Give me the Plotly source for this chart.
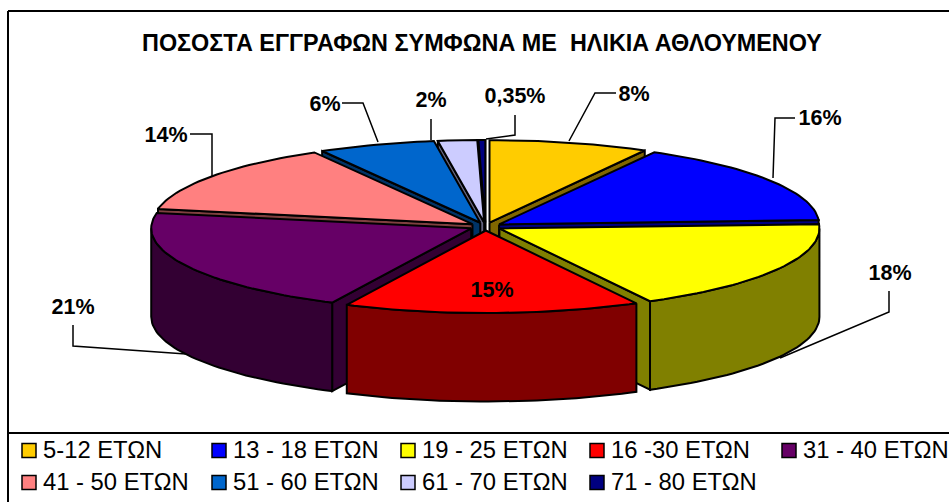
import math
import plotly.graph_objects as go

categories = ["5-12 ΕΤΩΝ", "13 - 18 ΕΤΩΝ", "19 - 25 ΕΤΩΝ", "16 -30 ΕΤΩΝ", "31 - 40 ΕΤΩΝ",
              "41 - 50 ΕΤΩΝ", "51 - 60 ΕΤΩΝ", "61 - 70 ΕΤΩΝ", "71 - 80 ΕΤΩΝ"]
values = [8, 16, 18, 15, 21, 14, 6, 2, 0.35]
value_labels = ["8%", "16%", "18%", "15%", "21%", "14%", "6%", "2%", "0,35%"]
title_text = "ΠΟΣΟΣΤΑ ΕΓΓΡΑΦΩΝ ΣΥΜΦΩΝΑ ΜΕ\u00a0\u00a0ΗΛΙΚΙΑ ΑΘΛΟΥΜΕΝΟΥ"

top_colors = ["#FFCC00", "#0000FF", "#FFFF00", "#FF0000", "#660066",
              "#FF8080", "#0066CC", "#CCCCFF", "#000080"]
side_colors = ["#806600", "#000080", "#808000", "#800000", "#330033",
               "#804040", "#003366", "#666680", "#000040"]

W, H = 949, 502
CX, CY, RX, RY, DEPTH, EXPLODE_X, EXPLODE_Y = 485.5, 226.5, 320, 82.5, 88.5, 16, 4
SKEW = math.radians(1.3)  # the 3-D projection pulls the front of the pie slightly to the left
FONT = "Liberation Sans, Arial, sans-serif"

label_xy = [(634, 96), (820, 120), (890, 275), (492, 292), (73, 309),
            (166, 137), (325, 106), (431, 102), (515, 98)]
leaders = [
    [(616, 93), (595, 93), (569, 141)],
    [(795, 118), (775, 118), (773, 178)],
    [(889, 291), (889, 312), (780, 358)],
    None,
    [(73, 325), (73, 346), (186, 354)],
    [(190, 134), (212, 134), (212, 176)],
    [(342, 103), (363, 103), (378, 142)],
    [(431, 119), (431, 140)],
    [(515, 115), (515, 135), (486, 139)],
]
LEGEND_X = [29, 219, 408, 597, 789]
LEGEND_Y = [450.5, 482.5]
LEGEND_TEXT_DX, LEGEND_TEXT_DY = 14, 1.5

fig = go.Figure()
line = dict(color="black", width=2)


def poly(pts, fill, name):
    fig.add_trace(go.Scatter(x=[p[0] for p in pts], y=[p[1] for p in pts], mode="lines",
                             fill="toself", fillcolor=fill, line=line, name=name,
                             showlegend=False, hoverinfo="name"))


total = sum(values)
bounds = [0]
for v in values:
    bounds.append(bounds[-1] + v / total * 2 * math.pi)
warp = lambda t: t + SKEW * math.sin(t / 2)

slices = []
for i in range(len(values)):
    a0, a1 = warp(bounds[i]), warp(bounds[i + 1])
    mid = (a0 + a1) / 2
    ax = CX + EXPLODE_X * math.sin(mid)
    ay = CY - EXPLODE_Y * math.cos(mid)
    slices.append((ay + RY * 0.6 * -math.cos(mid), i, a0, a1, ax, ay))

for _, i, a0, a1, ax, ay in sorted(slices):
    rim = lambda t: (ax + RX * math.sin(t), ay - RY * math.cos(t))
    down = lambda p: (p[0], p[1] + DEPTH)
    apex = (ax, ay)
    name = categories[i]
    # cut faces that turn towards the viewer
    if math.sin(a1) > 0:
        poly([apex, rim(a1), down(rim(a1)), down(apex), apex], side_colors[i], name)
    if math.sin(a0) < 0:
        poly([apex, rim(a0), down(rim(a0)), down(apex), apex], side_colors[i], name)
    # outer wall on the near half of the ellipse
    w0, w1 = max(a0, math.pi / 2), min(a1, 3 * math.pi / 2)
    if w1 > w0:
        n = max(2, int((w1 - w0) * 40))
        arc = [rim(w0 + (w1 - w0) * k / n) for k in range(n + 1)]
        poly(arc + [down(p) for p in reversed(arc)] + [arc[0]], side_colors[i], name)
    # top face
    n = max(2, int((a1 - a0) * 40))
    arc = [rim(a0 + (a1 - a0) * k / n) for k in range(n + 1)]
    poly([apex] + arc + [apex], top_colors[i], name)

for i, pts in enumerate(leaders):
    if pts:
        fig.add_trace(go.Scatter(x=[p[0] for p in pts], y=[p[1] for p in pts], mode="lines",
                                 line=dict(color="black", width=1.5), showlegend=False,
                                 hoverinfo="skip"))

fig.add_trace(go.Scatter(x=[p[0] for p in label_xy], y=[p[1] for p in label_xy], mode="text",
                         text=["<b>%s</b>" % t for t in value_labels], textposition="middle center",
                         textfont=dict(family=FONT, size=21.5, color="black"),
                         showlegend=False, hoverinfo="skip"))

for i, name in enumerate(categories):
    lx, ly = LEGEND_X[i % 5], LEGEND_Y[i // 5]
    fig.add_trace(go.Scatter(x=[lx], y=[ly], mode="markers",
                             marker=dict(symbol="square", size=14, color=top_colors[i],
                                         line=dict(color="black", width=1.5)),
                             name=name, showlegend=False))
    fig.add_trace(go.Scatter(x=[lx + LEGEND_TEXT_DX], y=[ly + LEGEND_TEXT_DY], mode="text",
                             text=[name], textposition="middle right",
                             textfont=dict(family=FONT, size=23.8, color="black"),
                             name=name, showlegend=False, cliponaxis=False, hoverinfo="skip"))

fig.update_layout(
    width=W, height=H, margin=dict(l=0, r=0, t=0, b=0), paper_bgcolor="white", plot_bgcolor="white",
    xaxis=dict(range=[0, W], visible=False, fixedrange=True),
    yaxis=dict(range=[H, 0], visible=False, fixedrange=True),
    shapes=[
        dict(type="line", x0=8, y0=11, x1=W, y1=11, line=line),
        dict(type="line", x0=8, y0=11, x1=8, y1=H, line=line),
        dict(type="line", x0=8, y0=433, x1=W, y1=433, line=line),
    ],
    annotations=[dict(x=482, y=43, xref="x", yref="y", text="<b>%s</b>" % title_text, showarrow=False,
                      font=dict(family=FONT, size=23.4, color="black"))],
)
fig.write_html("out.html", config=dict(displayModeBar=False),
               post_script="document.body.style.margin='0';document.body.style.overflow='hidden';")
